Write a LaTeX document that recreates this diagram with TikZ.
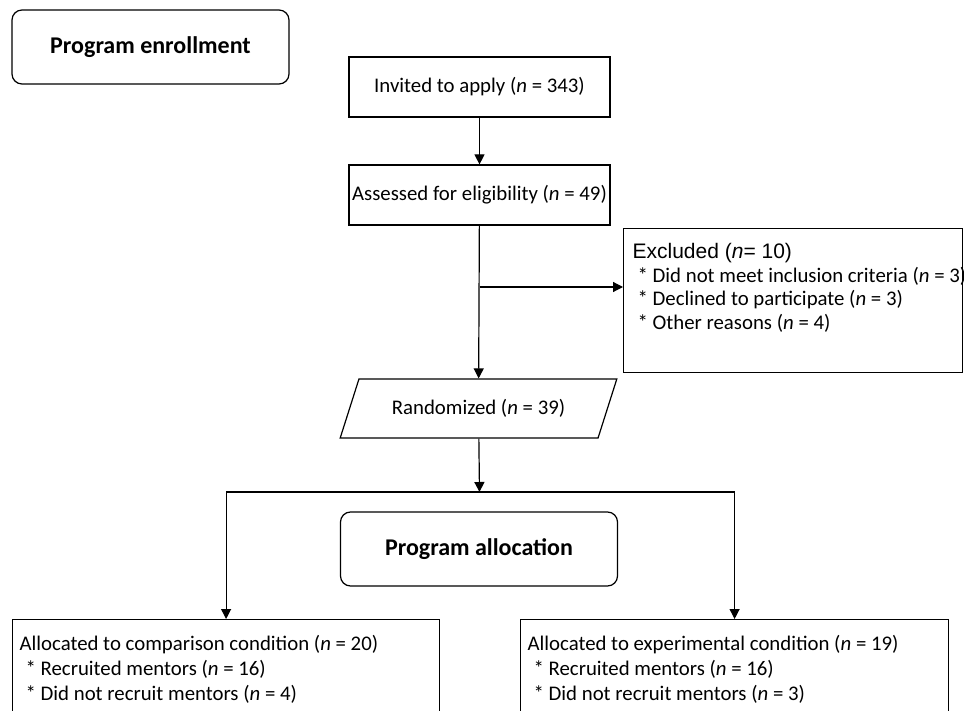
\documentclass[tikz,border=0pt]{standalone}
\usepackage{fontspec}
\setmainfont{Carlito}
\newfontfamily\arialfont{Liberation Sans}
\usetikzlibrary{arrows.meta, shapes.geometric}

\begin{document}
\begin{tikzpicture}[x=0.5pt, y=-0.5pt, line width=0.6pt,
    every node/.style={font=\fontsize{10.4}{12.5}\selectfont},
    phase/.style={draw, rounded corners=5pt, font=\bfseries\fontsize{12}{14}\selectfont,
        minimum width=138.5pt, minimum height=37pt},
    stepbox/.style={draw, inner sep=1pt, minimum width=130.5pt, minimum height=30pt},
    randbox/.style={draw, trapezium, trapezium left angle=65, trapezium right angle=115,
        trapezium stretches=true, minimum width=138.5pt, minimum height=29.5pt},
    listbox/.style={draw, anchor=north west, inner xsep=3.5pt, inner ysep=7.9pt},
    arr/.style={-{Triangle[length=5pt, width=5pt]}}]
    % Frame
    \useasboundingbox (0, 0) rectangle (964, 711);
    \clip (0, 0) rectangle (964, 711);
    % Phase labels
    \node [phase] (enroll) at (150.5, 47) {Program enrollment};
    \node [phase] (alloc) at (479, 549) {Program allocation};
    % Enrollment
    \node [stepbox] (invite) at (479.5, 87) {Invited to apply (\textit{n} = 343)};
    \node [stepbox] (assess) at (479.5, 195) {Assessed for eligibility (\textit{n} = 49)};
    \node [listbox, inner xsep=4.5pt, inner ysep=7.5pt] (excl) at (623, 228)
        {\parbox[t][57pt][t]{160.5pt}{\raggedright\baselineskip=12pt
        \mbox{\arialfont\fontsize{10.5}{12}\selectfont Excluded (\textit{n}= 10)}\\
        \mbox{\hspace*{2.5pt}* Did not meet inclusion criteria (\textit{n} = 3)}\\[-0.5pt]
        \mbox{\hspace*{2.5pt}* Declined to participate (\textit{n} = 3)}\\
        \mbox{\hspace*{2.5pt}* Other reasons (\textit{n} = 4)}}};
    \node [randbox] (random) at (478.5, 408.5) {Randomized (\textit{n} = 39)};
    % Allocation
    \node [listbox] (compare) at (12, 619)
        {\parbox[t][42pt][t]{206.5pt}{Allocated to comparison condition (\textit{n} = 20)\\
        \hspace*{3pt}* Recruited mentors (\textit{n} = 16)\\
        \hspace*{3pt}* Did not recruit mentors (\textit{n} = 4)}};
    \node [listbox] (exper) at (520, 619)
        {\parbox[t][42pt][t]{207pt}{Allocated to experimental condition (\textit{n} = 19)\\
        \hspace*{3pt}* Recruited mentors (\textit{n} = 16)\\
        \hspace*{3pt}* Did not recruit mentors (\textit{n} = 3)}};
    % Connectors
    \coordinate (split) at (479.5, 287);
    \coordinate (fork) at (479.5, 492);
    \draw [arr] (invite) -- (assess);
    \draw [arr] (assess) -- (random);
    \draw [arr] (split) -- (split -| excl.west);
    \draw [arr] (random) -- (fork);
    \draw [arr] (fork) -| (compare.north);
    \draw [arr] (fork) -| (exper.north);
\end{tikzpicture}
\end{document}
